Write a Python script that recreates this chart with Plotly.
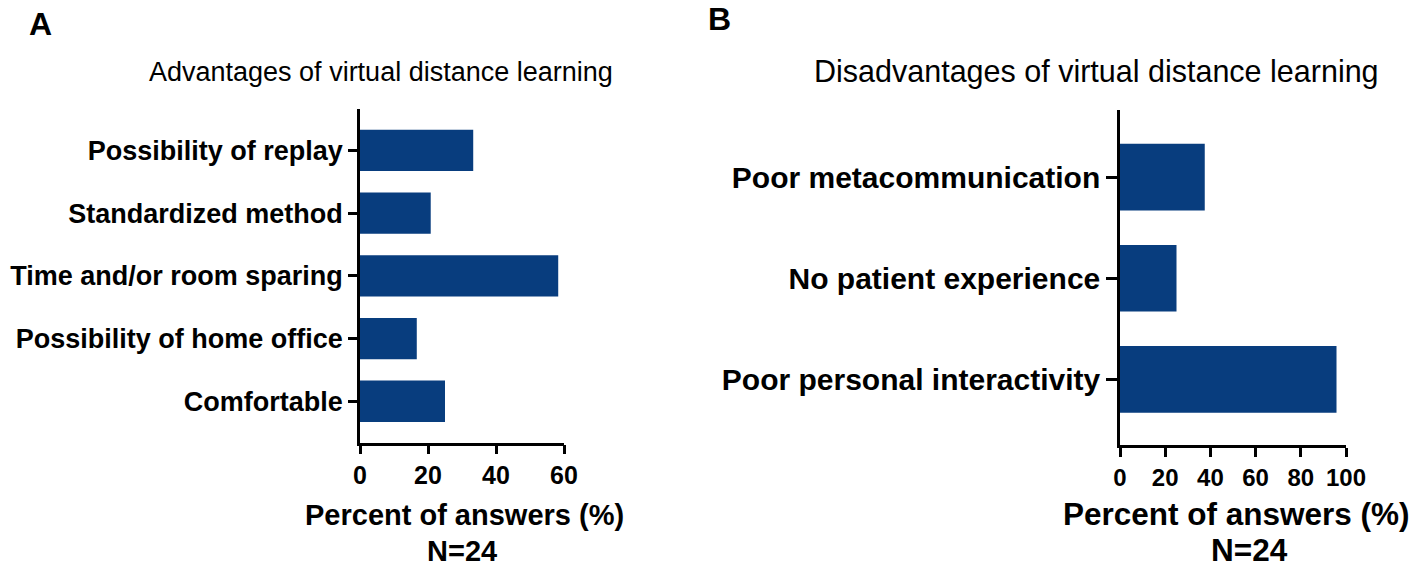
import plotly.graph_objects as go

# Panel A data
adv_categories = ["Possibility of replay", "Standardized method", "Time and/or room sparing",
                  "Possibility of home office", "Comfortable"]
adv_values = [33.3, 20.8, 58.3, 16.7, 25.0]
adv_ticks = [0, 20, 40, 60]

# Panel B data
dis_categories = ["Poor metacommunication", "No patient experience", "Poor personal interactivity"]
dis_values = [37.5, 25.0, 95.8]
dis_ticks = [0, 20, 40, 60, 80, 100]

W, H = 1418, 569
BAR = "#083d7e"
FONT = "Liberation Sans, Arial, sans-serif"

def px_x(p):
    return p / W

def px_y(p):
    return 1 - p / H

fig = go.Figure()
fig.add_trace(go.Bar(x=adv_values, y=adv_categories, orientation="h", width=0.66,
                     marker=dict(color=BAR, line=dict(width=0)), xaxis="x", yaxis="y",
                     showlegend=False, hoverinfo="x+y"))
fig.add_trace(go.Bar(x=dis_values, y=dis_categories, orientation="h", width=0.66,
                     marker=dict(color=BAR, line=dict(width=0)), xaxis="x2", yaxis="y2",
                     showlegend=False, hoverinfo="x+y"))

axis_common = dict(showline=True, linecolor="black", linewidth=2.5, ticks="outside",
                   tickcolor="black", tickwidth=2.5, showgrid=False, zeroline=False,
                   automargin=False)

fig.update_layout(
    template="none",
    width=W, height=H,
    autosize=False,
    margin=dict(l=0, r=0, t=0, b=0, pad=0),
    paper_bgcolor="white", plot_bgcolor="white",
    font=dict(family=FONT, color="black"),
    xaxis=dict(domain=[px_x(360), px_x(564)], range=[0, 60], tickvals=adv_ticks,
               ticklen=9, tickfont=dict(size=25, family=FONT, weight="bold"),
               anchor="y", **axis_common),
    yaxis=dict(domain=[px_y(442.7), px_y(109)], range=[4.66, -0.66], type="category",
               categoryorder="array", categoryarray=adv_categories,
               ticklen=9, tickfont=dict(size=27, family=FONT, weight="bold"),
               anchor="x", **axis_common),
    xaxis2=dict(domain=[px_x(1120), px_x(1346)], range=[0, 100], tickvals=dis_ticks,
                ticklen=9, tickfont=dict(size=24, family=FONT, weight="bold"),
                anchor="y2", **axis_common),
    yaxis2=dict(domain=[px_y(445), px_y(110)], range=[2.65, -0.665], type="category",
                categoryorder="array", categoryarray=dis_categories,
                ticklen=11, tickfont=dict(size=30, family=FONT, weight="bold"),
                anchor="x2", **axis_common),
)

def ann(text, x, y, size, bold=False):
    fig.add_annotation(text=text, x=px_x(x), y=px_y(y), xref="paper", yref="paper",
                       xanchor="center", yanchor="middle", showarrow=False,
                       font=dict(size=size, family=FONT, color="black",
                                 weight="bold" if bold else "normal"))

ann("A", 40, 24, 32, True)
ann("B", 719, 19, 32, True)
ann("Advantages of virtual distance learning", 381, 72, 27)
ann("Disadvantages of virtual distance learning", 1096, 72, 30.5)
ann("Percent of answers (%)", 464, 515, 29, True)
ann("N=24", 462, 551, 29, True)
ann("Percent of answers (%)", 1236, 514, 31.5, True)
ann("N=24", 1249, 550, 31.5, True)

fig.write_html("out.html", config={"displayModeBar": False, "responsive": False},
               post_script="document.body.style.margin='0';document.body.style.overflow='hidden';")
